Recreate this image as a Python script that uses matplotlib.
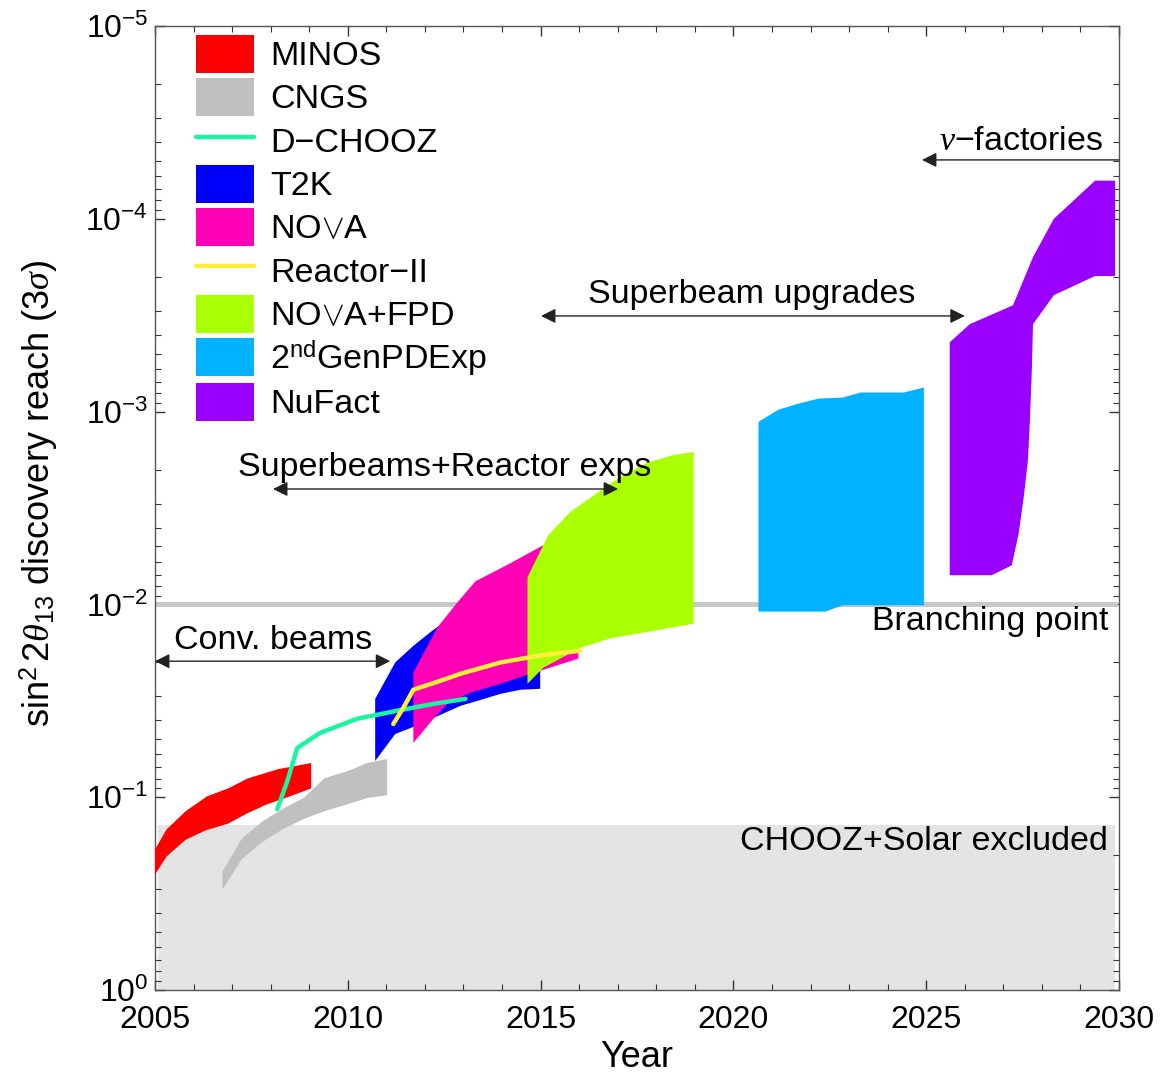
import matplotlib
matplotlib.use("Agg")
import matplotlib.pyplot as plt
from matplotlib.ticker import MultipleLocator, LogLocator

plt.rcParams['font.family'] = ['Liberation Sans', 'DejaVu Sans']
plt.rcParams['mathtext.fontset'] = 'custom'
plt.rcParams['mathtext.rm'] = 'Liberation Sans'
plt.rcParams['mathtext.it'] = 'Liberation Serif:italic'
plt.rcParams['mathtext.bf'] = 'Liberation Sans:bold'
plt.rcParams['mathtext.sf'] = 'Liberation Sans'

FS = 24.5      # annotations / legend
FS_TICK = 23
FS_LAB = 26

# ---- DATA (year, sin^2 2theta13 reach), upper and lower edge of each band ----
minos_top_yr = [2005.0, 2005.3, 2005.8, 2006.35, 2006.9, 2007.4, 2008.2, 2009.05]
minos_top = [0.187, 0.147, 0.118, 0.099, 0.090, 0.080, 0.0715, 0.0665]
minos_bot_yr = [2005.0, 2005.3, 2005.8, 2006.3, 2006.9, 2007.4, 2007.9, 2008.5, 2009.05]
minos_bot = [0.252, 0.203, 0.166, 0.149, 0.137, 0.121, 0.109, 0.099, 0.090]

cngs_yr = [2006.75, 2007.25, 2007.8, 2008.3, 2008.85, 2009.4, 2010.0, 2010.5, 2011.02]
cngs_top = [0.243, 0.164, 0.133, 0.1155, 0.101, 0.0796, 0.0732, 0.0665, 0.0634]
cngs_bot = [0.301, 0.210, 0.170, 0.147, 0.130, 0.118, 0.1087, 0.101, 0.0977]

dchooz_yr = [2008.17, 2008.43, 2008.69, 2009.28, 2010.24, 2011.28, 2012.22, 2013.05]
dchooz = [0.1155, 0.0826, 0.0556, 0.0464, 0.0392, 0.0356, 0.0328, 0.0309]

reactor_yr = [2011.18, 2011.44, 2011.70, 2012.40, 2012.92, 2013.96, 2014.99, 2016.03]
reactor = [0.0417, 0.0344, 0.0277, 0.0249, 0.0229, 0.0200, 0.0184, 0.0174]

t2k_top_yr = [2010.71, 2011.23, 2011.70, 2012.19, 2012.84, 2013.96, 2014.99]
t2k_top = [0.0309, 0.0200, 0.0164, 0.0137, 0.0110, 0.00953, 0.00845]
t2k_bot_yr = [2010.71, 2011.23, 2011.70, 2012.40, 2012.92, 2013.44, 2013.96, 2014.48, 2014.99]
t2k_bot = [0.0649, 0.0470, 0.0432, 0.0374, 0.0336, 0.0313, 0.0291, 0.0277, 0.0274]

nova_top_yr = [2011.70, 2012.32, 2012.84, 2013.31, 2014.22, 2015.07, 2015.98]
nova_top = [0.0226, 0.0132, 0.00977, 0.00759, 0.00611, 0.00493, 0.00412]
nova_bot_yr = [2011.70, 2012.22, 2012.58, 2013.18, 2013.96, 2014.66, 2015.98]
nova_bot = [0.0523, 0.0392, 0.0328, 0.0287, 0.0258, 0.0232, 0.0191]

fpd_top_yr = [2014.66, 2015.20, 2015.77, 2016.47, 2017.07, 2017.77, 2018.45, 2018.97]
fpd_top = [0.00723, 0.00437, 0.00332, 0.00264, 0.00218, 0.00184, 0.00168, 0.00162]
fpd_bot_yr = [2014.66, 2015.07, 2016.03, 2016.81, 2017.93, 2018.97]
fpd_bot = [0.0258, 0.0213, 0.0168, 0.0150, 0.0137, 0.0126]

gen2_top_yr = [2020.65, 2021.17, 2021.69, 2022.21, 2022.83, 2023.30, 2024.42, 2024.94]
gen2_top = [0.00113, 0.000977, 0.000909, 0.000856, 0.000846, 0.000796, 0.000796, 0.00075]
gen2_bot_yr = [2020.65, 2022.39, 2022.83, 2024.94]
gen2_bot = [0.0109, 0.0109, 0.0101, 0.0101]

nufact_top_yr = [2025.61, 2026.13, 2027.25, 2027.77, 2028.31, 2029.38, 2029.90]
nufact_top = [0.000437, 0.000352, 0.000281, 0.000158, 0.0001, 6.34e-5, 6.34e-5]
nufact_bot_yr = [2025.61, 2026.70, 2027.22, 2027.40, 2027.53, 2027.64, 2027.69,
                 2027.74, 2027.77, 2028.31, 2029.38, 2029.90]
nufact_bot = [0.00706, 0.00706, 0.00627, 0.00427, 0.00277, 0.00178, 0.0011,
              0.000604, 0.000352, 0.000249, 0.000198, 0.000198]

chooz_limit = 0.14
branching = 0.01

# ---- PLOT ----
fig = plt.figure(figsize=(11.62, 10.74), dpi=100)
ax = fig.add_axes([155 / 1162, 1 - 990 / 1074, 964 / 1162, 964 / 1074])
ax.set_yscale('log')
ax.set_xlim(2005, 2030)
ax.set_ylim(1, 1e-5)


def band(top_yr, top, bot_yr, bot, color, label):
    xs = list(top_yr) + list(bot_yr)[::-1]
    ys = list(top) + list(bot)[::-1]
    return ax.fill(xs, ys, color=color, lw=0, label=label, zorder=3)[0]


# excluded region and branching point
ax.fill_between([2005.07, 2029.9], [chooz_limit] * 2, [1, 1], color='#e4e4e4', lw=0, zorder=1)
ax.plot([2005.07, 2029.9], [branching] * 2, color='#c8c8c8', lw=3.6, zorder=2)

h_minos = band(minos_top_yr, minos_top, minos_bot_yr, minos_bot, '#ff0000', 'MINOS')
h_cngs = band(cngs_yr, cngs_top, cngs_yr, cngs_bot, '#c0c0c0', 'CNGS')
h_t2k = band(t2k_top_yr, t2k_top, t2k_bot_yr, t2k_bot, '#0000ff', 'T2K')
h_nova = band(nova_top_yr, nova_top, nova_bot_yr, nova_bot, '#ff00b4', r'NO$\vee$A')
h_fpd = band(fpd_top_yr, fpd_top, fpd_bot_yr, fpd_bot, '#aaff00', r'NO$\vee$A+FPD')
h_gen2 = band(gen2_top_yr, gen2_top, gen2_bot_yr, gen2_bot, '#00b2ff', r'2$^{\rm nd}$GenPDExp')
h_nuf = band(nufact_top_yr, nufact_top, nufact_bot_yr, nufact_bot, '#9900ff', 'NuFact')

h_dch, = ax.plot(dchooz_yr, dchooz, color='#1af5a0', lw=3.2, solid_capstyle='round',
                 solid_joinstyle='round', label='D\u2212CHOOZ', zorder=5)
h_rea, = ax.plot(reactor_yr, reactor, color='#ffee3a', lw=3.2, solid_capstyle='round',
                 solid_joinstyle='round', label='Reactor\u2212II', zorder=5)

# annotations
arr = dict(arrowstyle='<|-|>', color='#222222', lw=1.0, mutation_scale=22, shrinkA=0, shrinkB=0)
ax.annotate('', xy=(2011.1, 0.0197), xytext=(2005.0, 0.0197), arrowprops=arr, zorder=6)
ax.text(2008.06, 0.0153, 'Conv. beams', fontsize=FS, ha='center', va='center', zorder=7)

ax.annotate('', xy=(2017.01, 0.00252), xytext=(2008.06, 0.00252), arrowprops=arr, zorder=6)
ax.text(2012.52, 0.00196, 'Superbeams+Reactor exps', fontsize=FS, ha='center', va='center', zorder=7)

ax.annotate('', xy=(2026.0, 3.19e-4), xytext=(2015.01, 3.19e-4), arrowprops=arr, zorder=6)
ax.text(2020.48, 2.48e-4, 'Superbeam upgrades', fontsize=FS, ha='center', va='center', zorder=7)

arr1 = dict(arr, arrowstyle='-|>')
ax.annotate('', xy=(2024.89, 4.95e-5), xytext=(2030.0, 4.95e-5), arrowprops=arr1, zorder=6)
ax.text(2029.58, 3.95e-5, r'$\nu$' + '\u2212factories', fontsize=FS, ha='right', va='center', zorder=7)

ax.text(2029.72, 0.0123, 'Branching point', fontsize=FS, ha='right', va='center', zorder=7)
ax.text(2029.72, 0.169, 'CHOOZ+Solar excluded', fontsize=FS, ha='right', va='center', zorder=7)

# axes styling
ax.set_xticks([2005, 2010, 2015, 2020, 2025, 2030])
ax.xaxis.set_minor_locator(MultipleLocator(1))
ax.yaxis.set_major_locator(LogLocator(base=10, numticks=10))
ax.yaxis.set_minor_locator(LogLocator(base=10, subs=range(2, 10), numticks=10))
ax.tick_params(which='both', direction='in', top=True, right=True, color='#333333')
ax.tick_params(which='major', length=7, width=1)
ax.tick_params(which='minor', length=4, width=0.8)
ax.tick_params(axis='x', labelsize=FS_TICK, pad=11)
ax.tick_params(axis='y', labelsize=FS_TICK, pad=5)
for s in ax.spines.values():
    s.set_color('#555555')
    s.set_linewidth(1.0)

ax.set_xlabel('Year', fontsize=FS_LAB)
ax.set_ylabel(r'$\sin^2 2\theta_{13}$ discovery reach $(3\sigma)$', fontsize=FS_LAB)
ax.xaxis.set_label_coords(0.5, -0.052)
ax.yaxis.set_label_coords(-0.099, 0.515)

handles = [h_minos, h_cngs, h_dch, h_t2k, h_nova, h_rea, h_fpd, h_gen2, h_nuf]
ax.legend(handles=handles, loc='upper left', bbox_to_anchor=(0.0425, 0.991),
          frameon=False, fontsize=FS, borderpad=0, borderaxespad=0,
          handlelength=1.7, handleheight=1.355, handletextpad=0.47, labelspacing=0.147)

fig.savefig('out.png', dpi=100)
